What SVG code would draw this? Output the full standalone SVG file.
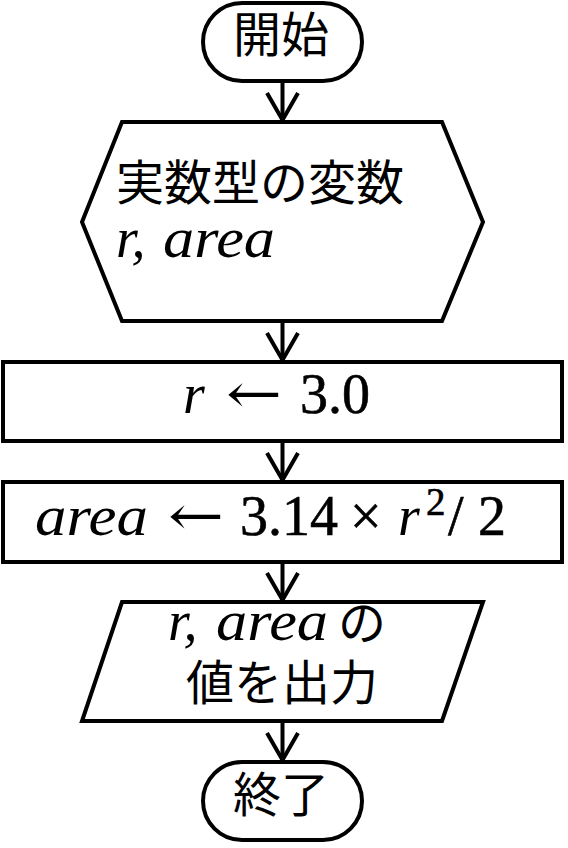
<svg xmlns="http://www.w3.org/2000/svg" width="568" height="848" viewBox="0 0 568 848">
<defs>
<style>
.s{fill:#fff;stroke:#000;stroke-width:4}
.c{stroke:#000;stroke-width:4;fill:none}
.j{font-family:"Noto Sans CJK JP","Noto Sans",sans-serif;font-size:48px;fill:#000}
.m{font-family:"Liberation Serif",serif;font-style:italic;font-size:56px;fill:#000}
.n{font-family:"Liberation Serif",serif;font-size:56px;fill:#000;stroke:#000;stroke-width:0.6}
.a{font-family:"DejaVu Serif",serif;font-size:56px;fill:#000}
</style>
<marker id="v" markerUnits="userSpaceOnUse" markerWidth="40" markerHeight="40" refX="0" refY="0" orient="auto" overflow="visible">
<path d="M-27,-15.5 L0,0 L-27,15.5" fill="none" stroke="#000" stroke-width="4"/>
</marker>
</defs>
<g id="connectors">
<line class="c" x1="282.5" y1="81" x2="282.5" y2="120" marker-end="url(#v)"/>
<line class="c" x1="282.5" y1="321" x2="282.5" y2="360" marker-end="url(#v)"/>
<line class="c" x1="282.5" y1="441" x2="282.5" y2="480" marker-end="url(#v)"/>
<line class="c" x1="282.5" y1="562" x2="282.5" y2="600" marker-end="url(#v)"/>
<line class="c" x1="282.5" y1="721" x2="282.5" y2="760" marker-end="url(#v)"/>
</g>
<g id="start">
<rect class="s" x="203" y="3" width="159" height="78" rx="39"/>
<text class="j" x="281" y="52" text-anchor="middle">開始</text>
</g>
<g id="declare">
<polygon class="s" points="122,122 442,122 483,222 442,321 122,321 82,222"/>
<text class="j" x="116" y="200">実数型の変数</text>
<text class="m" x="116" y="257">r,</text>
<text class="m" x="163" y="257" textLength="112" lengthAdjust="spacingAndGlyphs">area</text>
</g>
<g id="assign-r">
<rect class="s" x="3" y="362" width="559" height="79"/>
<text class="m" x="183" y="413">r</text>
<text class="a" x="226" y="413" textLength="56" lengthAdjust="spacingAndGlyphs">←</text>
<text class="n" x="300" y="413">3.0</text>
</g>
<g id="assign-area">
<rect class="s" x="3" y="482" width="559" height="80"/>
<text class="m" x="35" y="535" textLength="113" lengthAdjust="spacingAndGlyphs">area</text>
<text class="a" x="168" y="535" textLength="56" lengthAdjust="spacingAndGlyphs">←</text>
<text class="n" x="240" y="535">3.14</text>
<text class="n" x="350" y="535">×</text>
<text class="m" x="398" y="535">r</text>
<text class="n" x="426" y="515" style="font-size:39px">2</text>
<text class="n" x="448" y="535">/</text>
<text class="n" x="478" y="535">2</text>
</g>
<g id="output">
<polygon class="s" points="122,602 483,602 442,721 82,721"/>
<text class="m" x="168" y="640">r,</text>
<text class="m" x="216" y="640" textLength="112" lengthAdjust="spacingAndGlyphs">area</text>
<text class="j" x="338" y="640">の</text>
<text class="j" x="282" y="700" text-anchor="middle">値を出力</text>
</g>
<g id="end">
<rect class="s" x="203" y="762" width="159" height="78" rx="39"/>
<text class="j" x="281" y="812" text-anchor="middle">終了</text>
</g>
</svg>
